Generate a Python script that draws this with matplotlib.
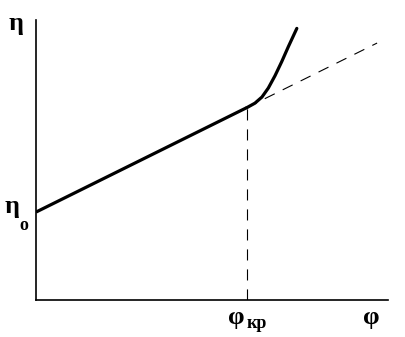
import numpy as np
import matplotlib
matplotlib.use("Agg")
import matplotlib.pyplot as plt

# Linear part: eta = eta0 + k * phi, kink at phi_kr
eta0 = 0.314
phi_kr = 0.599
phi_end = 0.969
k = 0.623

# Steep branch after the kink
phi_up = [0.599, 0.622, 0.642, 0.660, 0.679, 0.698, 0.717, 0.741]
eta_up = [0.687, 0.703, 0.725, 0.757, 0.801, 0.851, 0.905, 0.970]

eta_kr = eta0 + k * phi_kr

fig = plt.figure(figsize=(4.05, 3.37), dpi=100)
ax = fig.add_axes([36 / 405, 37 / 337, 352 / 405, 280 / 337])
ax.set_xlim(0, 1)
ax.set_ylim(0, 1)

# solid straight part
ax.plot([0, phi_kr], [eta0, eta_kr], color='black', lw=2.3, solid_capstyle='butt')
# dashed continuation
ax.plot([phi_kr, phi_end], [eta_kr, eta0 + k * phi_end], color='black', lw=0.8,
        dashes=(10, 8))
# vertical dashed line at phi_kr
ax.plot([phi_kr, phi_kr], [0, eta_kr], color='black', lw=0.8, dashes=(10, 8))
# curve
ax.plot(phi_up, eta_up, color='black', lw=2.3, solid_capstyle='round',
        solid_joinstyle='round')

for s in ['top', 'right']:
    ax.spines[s].set_visible(False)
for s in ['left', 'bottom']:
    ax.spines[s].set_linewidth(1.2)
ax.set_xticks([])
ax.set_yticks([])

font = dict(family='Liberation Serif', fontweight='bold', color='black')
ax.text(-0.057, 0.986, 'η', fontsize=19, ha='center', va='center', clip_on=False, **font)
ax.text(-0.068, 0.335, 'η', fontsize=19, ha='center', va='center', clip_on=False, **font)
ax.text(-0.036, 0.266, 'o', fontsize=13, ha='center', va='center', clip_on=False, **font)
ax.text(0.568, -0.062, 'φ', fontsize=19, ha='center', va='center', clip_on=False, **font)
ax.text(0.628, -0.085, 'кр', fontsize=13, ha='center', va='center', clip_on=False, **font)
ax.text(0.952, -0.062, 'φ', fontsize=19, ha='center', va='center', clip_on=False, **font)

fig.savefig('out.png', dpi=100)
